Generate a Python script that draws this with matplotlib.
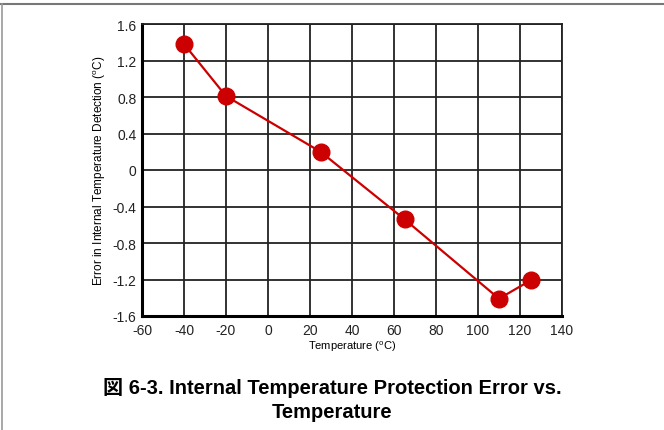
import matplotlib
matplotlib.use("Agg")
import matplotlib.pyplot as plt
from matplotlib.lines import Line2D

# data
temps = [-40, -20, 25, 65, 110, 125]
errors = [1.38, 0.81, 0.20, -0.54, -1.41, -1.21]
xticks = [-60, -40, -20, 0, 20, 40, 60, 80, 100, 120, 140]
yticks = [-1.6, -1.2, -0.8, -0.4, 0, 0.4, 0.8, 1.2, 1.6]
ytick_labels = ["-1.6", "-1.2", "-0.8", "-0.4", "0", "0.4", "0.8", "1.2", "1.6"]

plt.rcParams["font.family"] = ["Liberation Sans", "Noto Sans CJK JP", "DejaVu Sans"]
plt.rcParams["axes.unicode_minus"] = False

W, H = 664, 431
fig = plt.figure(figsize=(W / 100, H / 100), dpi=100)
ax = fig.add_axes([142 / W, 1 - 317 / H, (562 - 142) / W, (317 - 25) / H])

ax.plot(temps, errors, color="#cc0000", lw=1.6, marker="o", ms=12,
        markerfacecolor="#cc0000", markeredgecolor="#cc0000", zorder=3)

ax.set_xlim(-60, 140)
ax.set_ylim(-1.6, 1.6)
ax.set_xticks(xticks)
ax.set_yticks(yticks)
ax.set_yticklabels(ytick_labels)
ax.tick_params(length=0, labelsize=10, colors="#222222")
ax.tick_params(axis="x", pad=5)
ax.tick_params(axis="y", pad=4)
ax.grid(True, color="#222222", lw=1.3)
for side in ["top", "right"]:
    ax.spines[side].set_linewidth(1.3)
    ax.spines[side].set_color("#222222")
for side in ["left", "bottom"]:
    ax.spines[side].set_linewidth(2.2)
    ax.spines[side].set_color("black")

ax.set_xlabel("Temperature ($^\\mathregular{o}$C)", fontsize=8, labelpad=1.5)
ax.set_ylabel("Error in Internal Temperature Detection ($^\\mathregular{o}$C)",
              fontsize=8.5, labelpad=3)

fig.text(0.5, 1 - 388 / H, "図 6-3. Internal Temperature Protection Error vs.",
         ha="center", va="center", fontsize=14.5, fontweight="bold")
fig.text(0.5, 1 - 413 / H, "Temperature",
         ha="center", va="center", fontsize=14.5, fontweight="bold")

# page frame (top and left edges)
fig.add_artist(Line2D([0, 1], [1 - 5 / H, 1 - 5 / H], color="#777777", lw=1.5,
                      transform=fig.transFigure))
fig.add_artist(Line2D([1.5 / W, 1.5 / W], [0, 1 - 5 / H], color="#999999", lw=1.2,
                      transform=fig.transFigure))

fig.savefig("out.png", dpi=100)
